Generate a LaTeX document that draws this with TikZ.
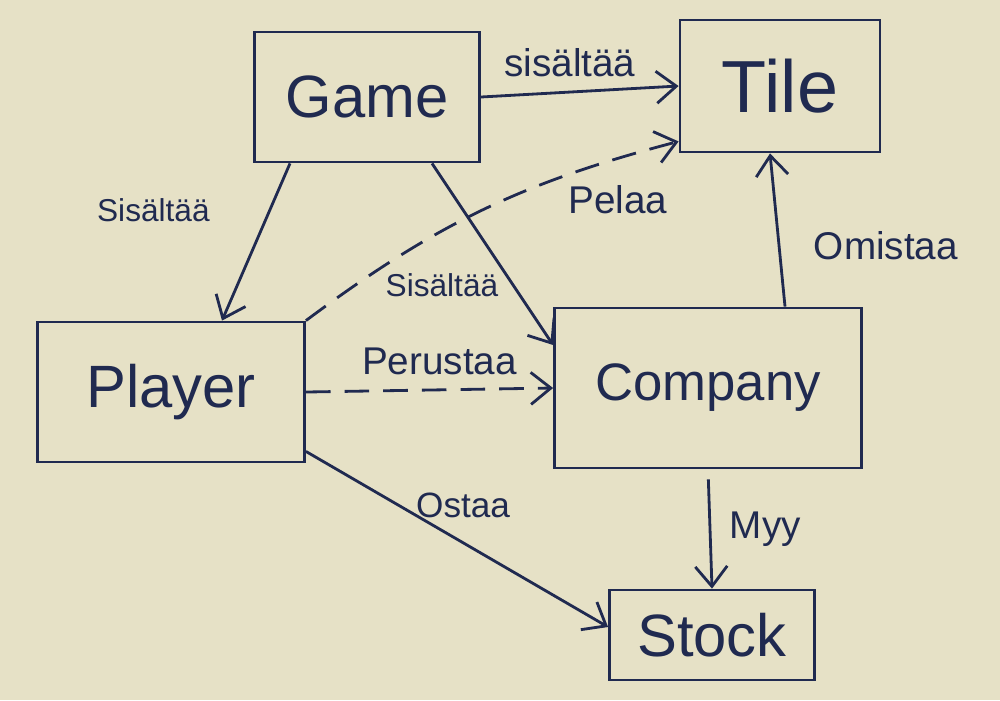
\documentclass[tikz,border=0pt]{standalone}
\usepackage{fontspec}
\setmainfont{Liberation Sans}
\definecolor{boardbg}{RGB}{230,225,198}
\definecolor{inkblue}{RGB}{32,42,80}
\usepackage{xcolor}
\usepackage{tikz}
\usetikzlibrary{arrows.meta}

\begin{document}
\begin{tikzpicture}[
  ent/.style={
    draw=inkblue, thick, text=inkblue,
    minimum width=#1, inner sep=2pt,
    font=\fontsize{17}{19}\selectfont
  },
  lbl/.style={
    text=inkblue, inner sep=1pt,
    font=\fontsize{11}{13}\selectfont
  },
  lblsmall/.style={lbl, font=\fontsize{9}{11}\selectfont},
  arrow/.style={-{Straight Barb[length=2mm,width=3.2mm]}, thick, draw=inkblue},
  dasharrow/.style={arrow, dash pattern=on 7pt off 4pt}
]
\fill[boardbg] (0,0) rectangle (10,7);
\useasboundingbox (0,0) rectangle (10,7);

\node[ent=2.25cm, minimum height=1.3cm] (game) at (3.67,6.03) {Game};
\node[ent=2.0cm, minimum height=1.32cm, font=\fontsize{21}{23}\selectfont] (tile) at (7.80,6.14) {Tile};
\node[ent=2.67cm, minimum height=1.4cm] (player) at (1.71,3.08) {Player};
\node[ent=3.07cm, minimum height=1.6cm, font=\fontsize{15}{17}\selectfont] (company) at (7.08,3.12) {Company};
\node[ent=2.05cm, minimum height=0.9cm] (stock) at (7.12,0.65) {Stock};

\draw[arrow] (game.east) -- node[lbl, above=1mm, pos=.45] {sisältää} (tile.west);
\draw[arrow] ([xshift=-0.77cm]game.south) -- node[lblsmall, left=5.5mm, pos=.3] {Sisältää} ([xshift=0.51cm]player.north);
\draw[arrow] ([xshift=0.65cm]game.south) -- node[lblsmall, left=1mm, pos=.67] {Sisältää} ([yshift=0.43cm]company.west);
\draw[dasharrow] (player.north east) to[bend left=11] ([yshift=0.12cm]tile.south west);
\node[lbl] (pelaa) at (6.18,5.00) {Pelaa};
\draw[dasharrow] (player.east) -- node[lbl, above=1mm, pos=.54] {Perustaa} (company.west);
\draw[arrow] ([yshift=0.12cm]player.south east) -- node[lbl, above=2mm, pos=.52, font=\fontsize{10}{12}\selectfont] {Ostaa} ([yshift=0.08cm]stock.west);
\draw[arrow] ([xshift=0.77cm]company.north) -- node[lbl, right=3mm, pos=.4] {Omistaa} ([xshift=-0.1cm]tile.south);
\draw[arrow, shorten <=1mm] (company.south) -- node[lbl, right=1.5mm, pos=.5] {Myy} (stock.north);
\end{tikzpicture}
\end{document}
